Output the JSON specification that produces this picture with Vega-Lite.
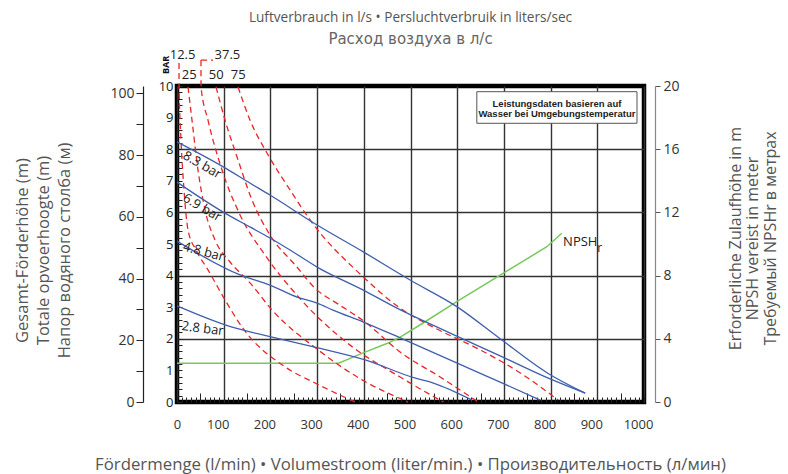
{
  "$schema": "https://vega.github.io/schema/vega-lite/v6.json",
  "width": 467,
  "height": 316,
  "autosize": {"type": "none"},
  "padding": {"left": 177, "top": 86, "right": 144, "bottom": 72},
  "background": "#ffffff",
  "config": {
    "view": {"stroke": "#000000", "strokeWidth": 4.5},
    "font": "Open Sans",
    "axis": {"labelFont": "Open Sans", "titleFont": "Open Sans", "titleFontWeight": "normal"}
  },
  "resolve": {"scale": {"y": "independent"}, "axis": {"x": "independent", "y": "independent"}},
  "layer": [
    {
      "data": {"values": [{"m": 0}]},
      "mark": {"type": "point", "opacity": 0},
      "encoding": {
        "y": {"field": "m", "type": "quantitative", "scale": {"domain": [0, 102.4], "nice": false},
          "axis": {"orient": "left", "offset": 34, "values": [0, 10, 20, 30, 40, 50, 60, 70, 80, 90, 100],
            "labelExpr": "datum.value % 20 == 0 ? datum.label : ''",
            "tickSize": 7, "tickColor": "#222", "domainColor": "#222", "domainWidth": 1.2, "labelPadding": 2,
            "labelFontSize": 14, "labelColor": "#333", "grid": false,
            "title": ["Gesamt-Förderhöhe (m)", "Totale opvoerhoogte (m)", "Напор водяного столба (м)"],
            "titleAngle": 270, "titleX": -121, "titleY": 164, "titleAlign": "center", "titleBaseline": "middle",
            "titleLineHeight": 21, "titleFontSize": 16.5, "titleColor": "#555"}}
      }
    },
    {
      "data": {"values": [
        {"x": 0, "m": 2.45}, {"x": 346, "m": 2.45}, {"x": 396, "m": 3.08}, {"x": 452, "m": 3.73},
        {"x": 478, "m": 4.11}, {"x": 527, "m": 5.0}, {"x": 599, "m": 6.35}, {"x": 699, "m": 8.15},
        {"x": 792, "m": 9.83}, {"x": 824, "m": 10.68}
      ]},
      "mark": {"type": "line", "color": "#78c85a", "strokeWidth": 1.5},
      "encoding": {
        "x": {"field": "x", "type": "quantitative", "scale": {"domain": [0, 1000], "nice": false, "zero": false},
          "axis": {"orient": "bottom", "values": [50, 150, 250, 350, 450, 550, 650, 750, 850, 950], "offset": -9, "tickSize": 9,
            "tickColor": "#222", "labels": false, "domain": false, "grid": false, "title": null}},
        "y": {"field": "m", "type": "quantitative", "scale": {"domain": [0, 20], "nice": false},
          "axis": {"orient": "right", "offset": 11, "values": [0, 4, 8, 12, 16, 20], "tickSize": 5,
            "tickColor": "#555", "domainColor": "#888", "domainWidth": 1.2, "labelPadding": 3,
            "labelFontSize": 14, "labelColor": "#333", "grid": false,
            "title": ["Erforderliche Zulaufhöhe in m", "NPSH vereist in meter", "Требуемый NPSHr в метрах"],
            "titleAngle": 270, "titleX": 80, "titleY": 152, "titleAlign": "center", "titleBaseline": "middle",
            "titleLineHeight": 17.5, "titleFontSize": 16, "titleColor": "#555"}}
      }
    },
    {
      "data": {"values": [
        {"s": "37.5c", "x": 51.4, "y": 10.82}, {"s": "37.5c", "x": 77.1, "y": 10.82}
      ]},
      "mark": {"type": "line", "color": "#e8262a", "strokeWidth": 1.3, "strokeDash": [6, 4]},
      "encoding": {
        "x": {"field": "x", "type": "quantitative", "axis": null},
        "y": {"field": "y", "type": "quantitative", "scale": {"domain": [0, 10], "nice": false}, "axis": null},
        "detail": {"field": "s"}
      }
    },
    {
      "data": {"values": [
        {"s": "12.5", "i": 0, "x": 4.3, "y": 10.73}, {"s": "12.5", "i": 1, "x": 4.4, "y": 9.97},
        {"s": "12.5", "i": 2, "x": 8.6, "y": 8.29}, {"s": "12.5", "i": 3, "x": 15, "y": 6.71},
        {"s": "12.5", "i": 4, "x": 23.6, "y": 5.44}, {"s": "12.5", "i": 5, "x": 40.7, "y": 4.81},
        {"s": "12.5", "i": 6, "x": 66.4, "y": 4.18}, {"s": "12.5", "i": 7, "x": 102.9, "y": 3.23},
        {"s": "12.5", "i": 8, "x": 139.3, "y": 2.37}, {"s": "12.5", "i": 9, "x": 231.4, "y": 1.11},
        {"s": "12.5", "i": 10, "x": 295.7, "y": 0.6}, {"s": "12.5", "i": 11, "x": 381.4, "y": 0},
        {"s": "25", "i": 0, "x": 23.6, "y": 9.97}, {"s": "25", "i": 1, "x": 32.1, "y": 8.92},
        {"s": "25", "i": 2, "x": 45, "y": 7.34}, {"s": "25", "i": 3, "x": 60, "y": 6.08},
        {"s": "25", "i": 4, "x": 81.4, "y": 5.13}, {"s": "25", "i": 5, "x": 113.6, "y": 4.43},
        {"s": "25", "i": 6, "x": 156.4, "y": 3.77}, {"s": "25", "i": 7, "x": 203.6, "y": 2.91},
        {"s": "25", "i": 8, "x": 302.1, "y": 1.65}, {"s": "25", "i": 9, "x": 396.4, "y": 0.7},
        {"s": "25", "i": 10, "x": 495, "y": 0},
        {"s": "37.5", "i": 0, "x": 51.4, "y": 10.82},
        {"s": "37.5", "i": 1, "x": 51.5, "y": 9.97}, {"s": "37.5", "i": 2, "x": 66.4, "y": 8.92},
        {"s": "37.5", "i": 3, "x": 96.4, "y": 7.34}, {"s": "37.5", "i": 4, "x": 135, "y": 5.92},
        {"s": "37.5", "i": 5, "x": 188.6, "y": 4.65}, {"s": "37.5", "i": 6, "x": 266, "y": 3.23},
        {"s": "37.5", "i": 7, "x": 370.7, "y": 1.8}, {"s": "37.5", "i": 8, "x": 477.8, "y": 0.79},
        {"s": "37.5", "i": 9, "x": 570, "y": 0},
        {"s": "50", "i": 0, "x": 83.6, "y": 9.97}, {"s": "50", "i": 1, "x": 102.9, "y": 8.92},
        {"s": "50", "i": 2, "x": 130.7, "y": 7.66}, {"s": "50", "i": 3, "x": 160.7, "y": 6.39},
        {"s": "50", "i": 4, "x": 199.3, "y": 5.28}, {"s": "50", "i": 5, "x": 252.8, "y": 4.34},
        {"s": "50", "i": 6, "x": 300, "y": 3.54}, {"s": "50", "i": 7, "x": 338.5, "y": 3.16},
        {"s": "50", "i": 8, "x": 402.8, "y": 2.53}, {"s": "50", "i": 9, "x": 477.8, "y": 1.58},
        {"s": "50", "i": 10, "x": 563.5, "y": 0.79}, {"s": "50", "i": 11, "x": 645, "y": 0},
        {"s": "75", "i": 0, "x": 130.7, "y": 9.97}, {"s": "75", "i": 1, "x": 156.4, "y": 8.92},
        {"s": "75", "i": 2, "x": 195, "y": 7.82}, {"s": "75", "i": 3, "x": 242.1, "y": 6.71},
        {"s": "75", "i": 4, "x": 285, "y": 5.76}, {"s": "75", "i": 5, "x": 398.6, "y": 3.96},
        {"s": "75", "i": 6, "x": 477.8, "y": 2.97}, {"s": "75", "i": 7, "x": 548.5, "y": 2.37},
        {"s": "75", "i": 8, "x": 649.3, "y": 1.65}, {"s": "75", "i": 9, "x": 735, "y": 0.92},
        {"s": "75", "i": 10, "x": 816.4, "y": 0.06}
      ]},
      "mark": {"type": "line", "color": "#e8262a", "strokeWidth": 1.3, "strokeDash": [6, 4], "interpolate": "monotone"},
      "encoding": {
        "x": {"field": "x", "type": "quantitative",
          "axis": {"orient": "bottom", "tickCount": 100, "offset": -5, "tickSize": 5, "tickColor": "#222", "labels": false,
            "domain": false, "grid": false, "title": null}},
        "y": {"field": "y", "type": "quantitative", "scale": {"domain": [0, 10], "nice": false},
          "axis": {"orient": "left", "values": [2, 4, 6, 8], "grid": true, "gridColor": "#333", "gridWidth": 1.4,
            "labels": false, "ticks": false, "domain": false, "title": null}},
        "detail": {"field": "s"},
        "order": {"field": "i"}
      }
    },
    {
      "data": {"values": [
        {"s": "8.3", "x": 0, "y": 8.23}, {"s": "8.3", "x": 99, "y": 7.44}, {"s": "8.3", "x": 156, "y": 6.93},
        {"s": "8.3", "x": 199, "y": 6.55}, {"s": "8.3", "x": 300, "y": 5.6}, {"s": "8.3", "x": 399, "y": 4.75},
        {"s": "8.3", "x": 499, "y": 3.86}, {"s": "8.3", "x": 600, "y": 3.01}, {"s": "8.3", "x": 692, "y": 2.0},
        {"s": "8.3", "x": 793, "y": 0.92}, {"s": "8.3", "x": 874, "y": 0.28},
        {"s": "6.9", "x": 0, "y": 6.96}, {"s": "6.9", "x": 99, "y": 6.01}, {"s": "6.9", "x": 156, "y": 5.54},
        {"s": "6.9", "x": 199, "y": 5.19}, {"s": "6.9", "x": 242, "y": 4.81}, {"s": "6.9", "x": 300, "y": 4.27},
        {"s": "6.9", "x": 399, "y": 3.54}, {"s": "6.9", "x": 471, "y": 2.97}, {"s": "6.9", "x": 585, "y": 2.18},
        {"s": "6.9", "x": 692, "y": 1.46}, {"s": "6.9", "x": 799, "y": 0.73}, {"s": "6.9", "x": 874, "y": 0.28},
        {"s": "4.8", "x": 0, "y": 5.09}, {"s": "4.8", "x": 135, "y": 4.02}, {"s": "4.8", "x": 199, "y": 3.7},
        {"s": "4.8", "x": 257, "y": 3.32}, {"s": "4.8", "x": 300, "y": 3.13}, {"s": "4.8", "x": 334, "y": 2.91},
        {"s": "4.8", "x": 399, "y": 2.53}, {"s": "4.8", "x": 478, "y": 2.03}, {"s": "4.8", "x": 600, "y": 1.23},
        {"s": "4.8", "x": 692, "y": 0.63}, {"s": "4.8", "x": 778, "y": 0.06},
        {"s": "2.8", "x": 0, "y": 3.04}, {"s": "2.8", "x": 103, "y": 2.44}, {"s": "2.8", "x": 231, "y": 1.96},
        {"s": "2.8", "x": 302, "y": 1.71}, {"s": "2.8", "x": 403, "y": 1.33}, {"s": "2.8", "x": 509, "y": 0.76},
        {"s": "2.8", "x": 549, "y": 0.6}, {"s": "2.8", "x": 632, "y": 0.06}
      ]},
      "mark": {"type": "line", "color": "#3f5fae", "strokeWidth": 1.3, "interpolate": "monotone"},
      "encoding": {
        "x": {"field": "x", "type": "quantitative",
          "axis": {"orient": "bottom", "values": [0, 100, 200, 300, 400, 500, 600, 700, 800, 900, 1000], "format": "d", "grid": true,
            "gridColor": "#333", "gridWidth": 1.4, "domain": false, "ticks": false, "labelPadding": 16,
            "labelFlush": false, "labelOverlap": false, "labelFontSize": 13, "labelColor": "#333",
            "labelOffset": {"condition": {"test": "datum.value == 0", "value": 0}, "value": -6},
            "title": "Fördermenge (l/min) • Volumestroom (liter/min.) • Производительность (л/мин)",
            "titleX": 233, "titleY": 62, "titleAlign": "center", "titleBaseline": "middle",
            "titleFontSize": 16.8, "titleColor": "#555"}},
        "y": {"field": "y", "type": "quantitative", "scale": {"domain": [0, 10], "nice": false},
          "axis": {"orient": "left", "values": [0, 1, 2, 3, 4, 5, 6, 7, 8, 9, 10], "grid": false, "domain": false, "ticks": false,
            "labelPadding": 4, "labelFontSize": 13, "labelColor": "#222",
            "title": "BAR", "titleAngle": 270, "titleX": -11.5, "titleY": -21.5, "titleAlign": "center",
            "titleBaseline": "middle", "titleFontSize": 9, "titleFontWeight": "bold", "titleColor": "#111"}},
        "detail": {"field": "s"}
      }
    },
    {
      "data": {"values": [{"x": 642, "x2": 985, "y": 9.82, "y2": 8.82}]},
      "mark": {"type": "rect", "fill": "#ffffff", "stroke": "#555", "strokeWidth": 1},
      "encoding": {
        "x": {"field": "x", "type": "quantitative",
          "axis": {"orient": "top", "labels": false, "ticks": false, "domain": false, "grid": false,
            "title": "Luftverbrauch in l/s • Persluchtverbruik in liters/sec",
            "titleX": 233, "titleY": -69, "titleAlign": "center", "titleBaseline": "middle",
            "titleFontSize": 13.6, "titleColor": "#555"}},
        "x2": {"field": "x2"},
        "y": {"field": "y", "type": "quantitative", "scale": {"domain": [0, 10], "nice": false},
          "axis": {"orient": "left", "tickCount": 50, "offset": -5, "tickSize": 5, "tickColor": "#222", "labels": false,
            "domain": false, "grid": false, "title": null}},
        "y2": {"field": "y2"}
      }
    },
    {
      "data": {"values": [
        {"x": 813.6, "y": 9.43, "t": "Leistungsdaten basieren auf"},
        {"x": 813.6, "y": 9.1, "t": "Wasser bei Umgebungstemperatur"}
      ]},
      "mark": {"type": "text", "font": "Liberation Sans", "fontWeight": "bold", "fontSize": 9.5, "color": "#222", "baseline": "middle"},
      "encoding": {
        "x": {"field": "x", "type": "quantitative",
          "axis": {"orient": "top", "labels": false, "ticks": false, "domain": false, "grid": false,
            "title": "Расход воздуха в л/с", "titleFont": "DejaVu Sans",
            "titleX": 233, "titleY": -48, "titleAlign": "center", "titleBaseline": "middle",
            "titleFontSize": 15, "titleColor": "#666"}},
        "y": {"field": "y", "type": "quantitative", "scale": {"domain": [0, 10], "nice": false}, "axis": null},
        "text": {"field": "t"}
      }
    },
    {
      "data": {"values": [
        {"x": 12, "y": 10.98, "t": "12.5"}, {"x": 108, "y": 10.98, "t": "37.5"},
        {"x": 26, "y": 10.35, "t": "25"}, {"x": 84, "y": 10.35, "t": "50"}, {"x": 131, "y": 10.35, "t": "75"},
        {"x": 863.5, "y": 5.05, "t": "NPSH"}
      ]},
      "mark": {"type": "text", "fontSize": 13, "color": "#222", "baseline": "middle"},
      "encoding": {
        "x": {"field": "x", "type": "quantitative", "axis": null},
        "y": {"field": "y", "type": "quantitative", "scale": {"domain": [0, 10], "nice": false}, "axis": null},
        "text": {"field": "t"}
      }
    },
    {
      "data": {"values": [{"x": 905.3, "y": 4.86, "t": "r"}]},
      "mark": {"type": "text", "fontSize": 12, "color": "#222", "baseline": "middle"},
      "encoding": {
        "x": {"field": "x", "type": "quantitative", "axis": null},
        "y": {"field": "y", "type": "quantitative", "scale": {"domain": [0, 10], "nice": false}, "axis": null},
        "text": {"field": "t"}
      }
    },
    {
      "data": {"values": [{"x": 54, "y": 7.5, "t": "8.3 bar"}, {"x": 54, "y": 6.15, "t": "6.9 bar"}]},
      "mark": {"type": "text", "fontSize": 13, "color": "#222", "baseline": "middle", "angle": 30},
      "encoding": {
        "x": {"field": "x", "type": "quantitative", "axis": null},
        "y": {"field": "y", "type": "quantitative", "scale": {"domain": [0, 10], "nice": false}, "axis": null},
        "text": {"field": "t"}
      }
    },
    {
      "data": {"values": [{"x": 57, "y": 4.75, "t": "4.8 bar"}]},
      "mark": {"type": "text", "fontSize": 13, "color": "#222", "baseline": "middle", "angle": 15},
      "encoding": {
        "x": {"field": "x", "type": "quantitative", "axis": null},
        "y": {"field": "y", "type": "quantitative", "scale": {"domain": [0, 10], "nice": false}, "axis": null},
        "text": {"field": "t"}
      }
    },
    {
      "data": {"values": [{"x": 55, "y": 2.32, "t": "2.8 bar"}]},
      "mark": {"type": "text", "fontSize": 13, "color": "#222", "baseline": "middle", "angle": 7},
      "encoding": {
        "x": {"field": "x", "type": "quantitative", "axis": null},
        "y": {"field": "y", "type": "quantitative", "scale": {"domain": [0, 10], "nice": false}, "axis": null},
        "text": {"field": "t"}
      }
    }
  ]
}
